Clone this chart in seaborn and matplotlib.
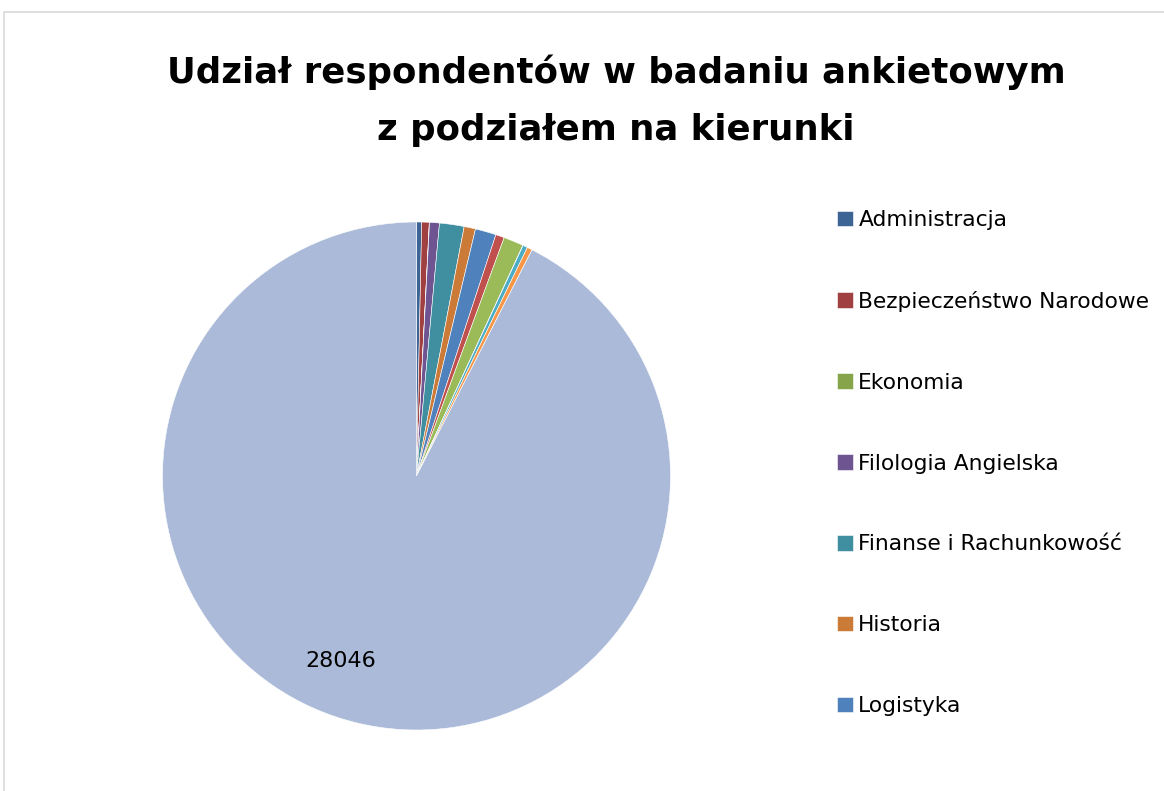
import matplotlib
matplotlib.use("Agg")
import matplotlib.pyplot as plt
import seaborn as sns
from matplotlib.patches import Rectangle

# data (clockwise from 12 o'clock)
kierunki = ["Administracja", "Bezpieczeństwo Narodowe", "Ekonomia", "Filologia Angielska",
            "Finanse i Rachunkowość", "Historia", "Logistyka",
            "Kierunek 8", "Kierunek 9", "Kierunek 10", "Kierunek 11", "Kierunek 12", "Kierunek 13"]
liczba = [99, 145, 4, 190, 474, 220, 402, 167, 385, 4, 90, 99, 28046]
kolory = ["#3C6494", "#A04040", "#86A44A", "#6E5490", "#3F8FA0", "#CC7A38", "#4F81BD",
          "#C0504D", "#9BBB59", "#8064A2", "#4BACC6", "#F79646", "#AABAD8"]
legenda_n = 7

sns.set_theme(style="white")
plt.rcParams['font.family'] = ['DejaVu Sans']
plt.rcParams['text.color'] = 'black'

W, H = 1164, 791
fig = plt.figure(figsize=(W / 100, H / 100), dpi=100)

# light grey frame of the chart area (right and bottom edges run off the image)
fig.patches.append(Rectangle((4 / W, -0.05), 1.1, 1.05 - 12 / H, transform=fig.transFigure,
                             fill=False, edgecolor="#D9D9D9", linewidth=1.2))

cx, cy, r = 416.5, H - 476, 254
ax = fig.add_axes([(cx - r) / W, (cy - r) / H, 2 * r / W, 2 * r / H])
wedges, _ = ax.pie(liczba, colors=kolory, startangle=90, counterclock=False,
                   wedgeprops=dict(edgecolor="white", linewidth=0.4))
ax.set_xlim(-1, 1)
ax.set_ylim(-1, 1)
ax.axis("off")

# only the big slice carries a data label
ax.text(-0.30, -0.73, str(liczba[-1]), fontsize=16, ha="center", va="center", color="black")

fig.text(616 / W, 1 - 72 / H, "Udział respondentów w badaniu ankietowym",
         fontsize=25.6, fontweight="bold", ha="center", va="center", color="black")
fig.text(616 / W, 1 - 130 / H, "z podziałem na kierunki",
         fontsize=25.6, fontweight="bold", ha="center", va="center", color="black")

leg = fig.legend(wedges[:legenda_n], kierunki[:legenda_n], loc="upper left",
                 bbox_to_anchor=(837 / W, 1 - 210 / H), frameon=False, fontsize=15.7,
                 handlelength=0.72, handleheight=0.72, handletextpad=0.26,
                 labelspacing=2.79, borderpad=0, borderaxespad=0)
for t in leg.get_texts():
    t.set_color("black")

fig.savefig("out.png", dpi=100)
